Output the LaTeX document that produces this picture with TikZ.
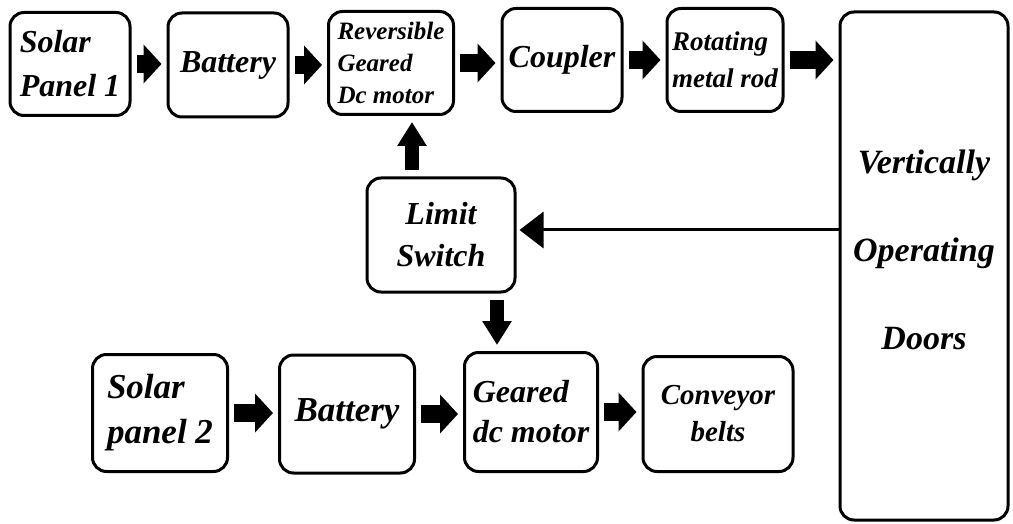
\documentclass[tikz,border=0pt]{standalone}
\usepackage{fontspec}
\setmainfont{Liberation Serif}
\usetikzlibrary{arrows.meta}

\begin{document}
\begin{tikzpicture}[x=1pt, y=-1pt,
    box/.style={draw, line width=3pt, rounded corners=14pt, inner sep=2pt},
    fat/.style={line width=18pt, -{Triangle[width=38pt,length=18pt]}, shorten <=5pt, shorten >=5pt},
    vfat/.style={line width=14pt, -{Triangle[width=28pt,length=24pt]}, shorten <=6pt, shorten >=6pt},
    feedback/.style={line width=3pt, -{Triangle[width=36pt,length=24pt]}, shorten >=3pt},
    font=\bfseries\itshape\fontsize{32}{44}\selectfont]
    % Bildbereich
    \useasboundingbox (0,0) rectangle (1013,524);
    % obere Reihe
    \node[box, minimum width=120, minimum height=103, align=left] (sp1) at (70,64) {Solar\\Panel 1};
    \node[box, minimum width=120, minimum height=104] (bat1) at (228,65) {Battery};
    \node[box, minimum width=125, minimum height=103, align=left, font=\bfseries\itshape\fontsize{25}{32}\selectfont] (rev) at (391,63) {Reversible\\Geared\\Dc motor};
    \node[box, minimum width=120, minimum height=103] (coup) at (562,60) {Coupler};
    \node[box, minimum width=116, minimum height=103, align=left, font=\bfseries\itshape\fontsize{27}{37}\selectfont] (rod) at (725,60) {Rotating\\metal rod};
    % Tore
    \node[box, minimum width=168, minimum height=508] (doors) at (924,266) {};
    \node[align=center, font=\bfseries\itshape\fontsize{34}{88}\selectfont] (doorstxt) at (924,250) {Vertically\\Operating\\Doors};
    % Endschalter
    \node[box, minimum width=148, minimum height=114, align=center, font=\bfseries\itshape\fontsize{32}{42}\selectfont] (lim) at (441,235) {Limit\\Switch};
    % untere Reihe
    \node[box, minimum width=135, minimum height=117, align=left, font=\bfseries\itshape\fontsize{35}{45}\selectfont] (sp2) at (160,413) {Solar\\panel 2};
    \node[box, minimum width=135, minimum height=118, font=\bfseries\itshape\fontsize{35}{45}\selectfont] (bat2) at (347,414) {Battery};
    \node[box, minimum width=133, minimum height=119, align=left, font=\bfseries\itshape\fontsize{32}{40}\selectfont] (ger) at (531,412) {Geared\\dc motor};
    \node[box, minimum width=150, minimum height=115, align=center, font=\bfseries\itshape\fontsize{29}{37}\selectfont] (conv) at (718,414) {Conveyor\\belts};
    % Pfeile
    \foreach \a/\b in {sp1/bat1, bat1/rev, rev/coup, coup/rod, rod/doors}
      \draw[fat] (\a.east) -- (\a.east -| \b.west);
    \foreach \a/\b in {sp2/bat2, bat2/ger, ger/conv}
      \draw[fat] (\a.east) -- (\a.east -| \b.west);
    \coordinate (up) at ([xshift=-29pt]lim.north);
    \coordinate (dn) at ([xshift=56pt]lim.south);
    \coordinate (fb) at ([yshift=5pt]lim.east);
    \draw[vfat] (up) -- (up |- rev.south);
    \draw[vfat] (dn) -- (dn |- ger.north);
    \draw[feedback] (fb -| doors.west) -- (fb);
\end{tikzpicture}
\end{document}
